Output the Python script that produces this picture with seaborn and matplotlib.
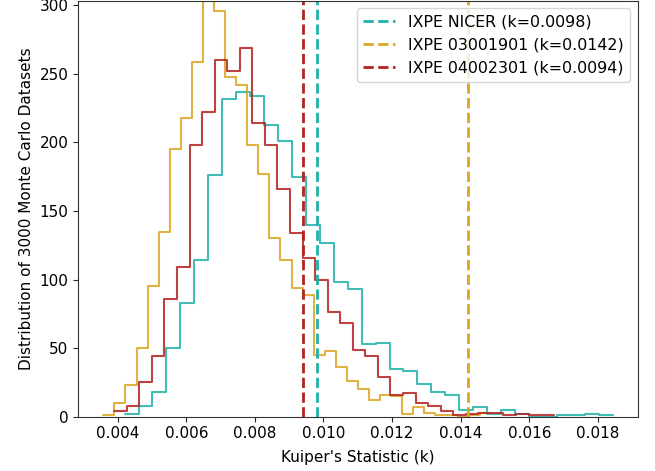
import numpy as np
import pandas as pd
import matplotlib
matplotlib.use("Agg")
import matplotlib.pyplot as plt
import seaborn as sns

# Kuiper statistic histograms (35 bins spanning each sample's min..max)
n_bins = 35

nicer_range = (0.00420, 0.01843)
nicer_counts = [2, 8, 18, 50, 83, 114, 176, 232, 237, 234,
                213, 201, 175, 140, 127, 98, 93, 53, 54, 35,
                33, 24, 18, 16, 5, 7, 2, 5, 2, 0,
                0, 1, 1, 2, 1]

obs1_range = (0.00358, 0.01488)
obs1_counts = [1, 10, 23, 50, 95, 135, 195, 218, 259, 318,
               296, 248, 242, 198, 177, 130, 114, 94, 89, 45,
               48, 36, 26, 20, 12, 16, 15, 2, 7, 3,
               1, 1, 0, 1, 3]

obs2_range = (0.00390, 0.01671)
obs2_counts = [4, 8, 25, 44, 86, 109, 198, 222, 260, 252,
               269, 214, 198, 166, 134, 116, 100, 76, 68, 49,
               44, 29, 16, 17, 10, 8, 4, 1, 2, 3,
               3, 1, 2, 1, 1]

labels = ["IXPE NICER", "IXPE 03001901", "IXPE 04002301"]
observed_k = [0.0098, 0.0142, 0.0094]
colors = ["lightseagreen", "goldenrod", "firebrick"]

sns.set_style("ticks")
plt.rcParams["font.family"] = ["DejaVu Sans"]
for key in ["font.size", "axes.labelsize", "xtick.labelsize", "ytick.labelsize"]:
    plt.rcParams[key] = 11
plt.rcParams["legend.fontsize"] = 11.4
for key in ["text.color", "axes.labelcolor", "xtick.labelcolor", "ytick.labelcolor"]:
    plt.rcParams[key] = "black"
plt.rcParams["axes.edgecolor"] = "0.2"

fig = plt.figure(figsize=(6.55, 4.71), dpi=100)
ax = fig.add_axes([0.1195, 0.1153, 0.854, 0.8836])

ranges = [nicer_range, obs1_range, obs2_range]
count_sets = [nicer_counts, obs1_counts, obs2_counts]
for (lo, hi), counts, color in zip(ranges, count_sets, colors):
    edges = np.linspace(lo, hi, n_bins + 1)
    df = pd.DataFrame({"k": 0.5 * (edges[:-1] + edges[1:]), "n": counts})
    sns.histplot(data=df, x="k", weights="n", bins=list(edges), element="step",
                 fill=False, color=color, linewidth=1.5, alpha=0.85, ax=ax)

for label, k, color in zip(labels, observed_k, colors):
    ax.axvline(k, color=color, linestyle="--", linewidth=2, label=f"{label} (k={k:.4f})")

ax.set_xlim(0.00285, 0.01916)
ax.set_ylim(0, 303.5)
ax.set_yticks(np.arange(0, 301, 50))
ax.set_xlabel("Kuiper's Statistic (k)", labelpad=6)
ax.set_ylabel("Distribution of 3000 Monte Carlo Datasets")
ax.legend(loc="upper right", frameon=True)

fig.savefig("out.png", dpi=100)
